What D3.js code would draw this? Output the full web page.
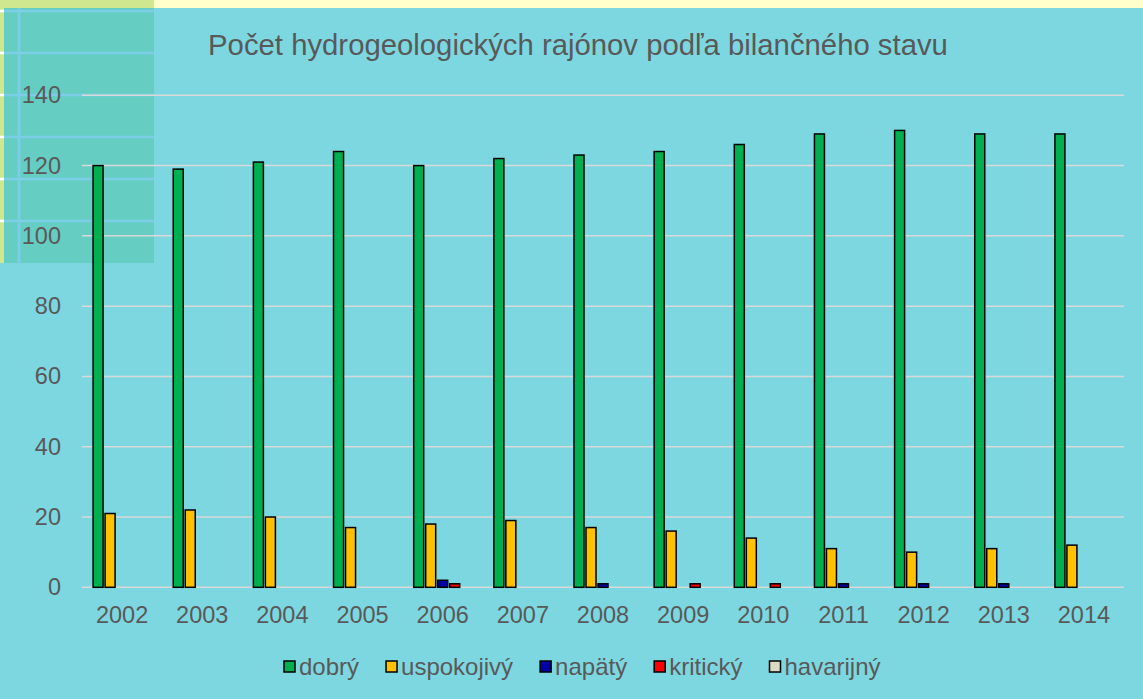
<!DOCTYPE html>
<html>
<head>
<meta charset="utf-8">
<script src="https://cdn.jsdelivr.net/npm/d3@7"></script>
<style>
  body { margin: 0; background: #7dd7e0; }
  svg { display: block; font-family: "Liberation Sans", Arial, sans-serif; }
</style>
</head>
<body>
<svg id="chart" width="1143" height="699"></svg>
<script>
const years = ["2002","2003","2004","2005","2006","2007","2008","2009","2010","2011","2012","2013","2014"];
const seriesNames = ["dobrý","uspokojivý","napätý","kritický","havarijný"];
const dobry      = [120,119,121,124,120,122,123,124,126,129,130,129,129];
const uspokojivy = [21,22,20,17,18,19,17,16,14,11,10,11,12];
const napaty     = [0,0,0,0,2,0,1,0,0,1,1,1,0];
const kriticky   = [0,0,0,0,1,0,0,1,1,0,0,0,0];
const havarijny  = [0,0,0,0,0,0,0,0,0,0,0,0,0];
const yTicks = [0,20,40,60,80,100,120,140];
const seriesColors = ["#00b050","#ffc000","#0000a8","#ff0000","#ddd9c3"];

const W = 1143, H = 699;
const svg = d3.select("#chart");
const textColor = "#595959";

//background + decorative corner
svg.append("rect").attr("width", W).attr("height", H).attr("fill", "#7dd7e0");
svg.append("rect").attr("width", W).attr("height", 8).attr("fill", "#ffffcc");
svg.append("rect").attr("width", 154).attr("height", 263).attr("fill", "#66cdc3");
svg.append("rect").attr("width", 154).attr("height", 8).attr("fill", "#cfe88f");
svg.append("rect").attr("width", 4).attr("height", 263).attr("fill", "#cfe88f");
[11, 53, 95, 137, 179, 221].forEach(yy => {
    svg.append("line").attr("x1", 4).attr("x2", 154).attr("y1", yy).attr("y2", yy)
        .attr("stroke", "#7ccde6").attr("stroke-width", 2.5);
    svg.append("line").attr("x1", 0).attr("x2", 4).attr("y1", yy).attr("y2", yy)
        .attr("stroke", "#ffffff").attr("stroke-width", 2.5);
});
svg.append("line").attr("x1", 19).attr("x2", 19).attr("y1", 8).attr("y2", 263)
    .attr("stroke", "#7ccde6").attr("stroke-width", 3);

const plot = { left: 82, right: 1124, top: 95.3, bottom: 587.3 };

const x = d3.scaleBand().domain(years).range([plot.left, plot.right]);
const groupW = 58;
const xs = d3.scaleBand().domain(seriesNames).range([0, groupW]).paddingInner(2 / 12);
const y = d3.scaleLinear().domain([0, 140]).range([plot.bottom, plot.top]);

//gridlines
svg.append("g").selectAll("line")
    .data(yTicks)
    .enter()
    .append("line")
    .attr("x1", plot.left).attr("x2", plot.right)
    .attr("y1", d => y(d)).attr("y2", d => y(d))
    .attr("stroke", "#d9d9d9")
    .attr("stroke-width", 1.5);

//y labels
svg.append("g").selectAll("text")
    .data(yTicks)
    .enter()
    .append("text")
    .attr("x", 61)
    .attr("y", d => y(d) + 8)
    .attr("text-anchor", "end")
    .style("font-size", "23.5px")
    .style("fill", textColor)
    .text(d => d);

//x labels
svg.append("g").selectAll("text")
    .data(years)
    .enter()
    .append("text")
    .attr("x", d => x(d) + x.bandwidth() / 2)
    .attr("y", 623)
    .attr("text-anchor", "middle")
    .style("font-size", "23.5px")
    .style("fill", textColor)
    .text(d => d);

//bars
const allSeries = [dobry, uspokojivy, napaty, kriticky, havarijny];
const barData = [];
allSeries.forEach((vals, si) => {
    vals.forEach((v, yi) => {
        if (v > 0) barData.push({ year: years[yi], series: seriesNames[si], value: v, color: seriesColors[si] });
    });
});
const offset = (x.bandwidth() - groupW) / 2;
svg.append("g").selectAll("rect")
    .data(barData)
    .enter()
    .append("rect")
    .attr("x", d => x(d.year) + offset + xs(d.series))
    .attr("y", d => y(d.value))
    .attr("width", xs.bandwidth())
    .attr("height", d => y(0) - y(d.value))
    .attr("fill", d => d.color)
    .attr("stroke", "#000")
    .attr("stroke-width", 1.5);

//title
svg.append("text")
    .attr("x", 578)
    .attr("y", 55)
    .attr("text-anchor", "middle")
    .style("font-size", "29.3px")
    .style("fill", textColor)
    .text("Počet hydrogeologických rajónov podľa bilančného stavu");

//legend
const legend = svg.append("g");
let lx = 284;
seriesNames.forEach((name, i) => {
    legend.append("rect")
        .attr("x", lx).attr("y", 661)
        .attr("width", 11).attr("height", 11)
        .attr("fill", seriesColors[i])
        .attr("stroke", "#000")
        .attr("stroke-width", 1.5);
    const t = legend.append("text")
        .attr("x", lx + 15)
        .attr("y", 675)
        .style("font-size", "24px")
        .style("fill", textColor)
        .text(name);
    lx += 15 + t.node().getComputedTextLength() + 27;
});
</script>
</body>
</html>
